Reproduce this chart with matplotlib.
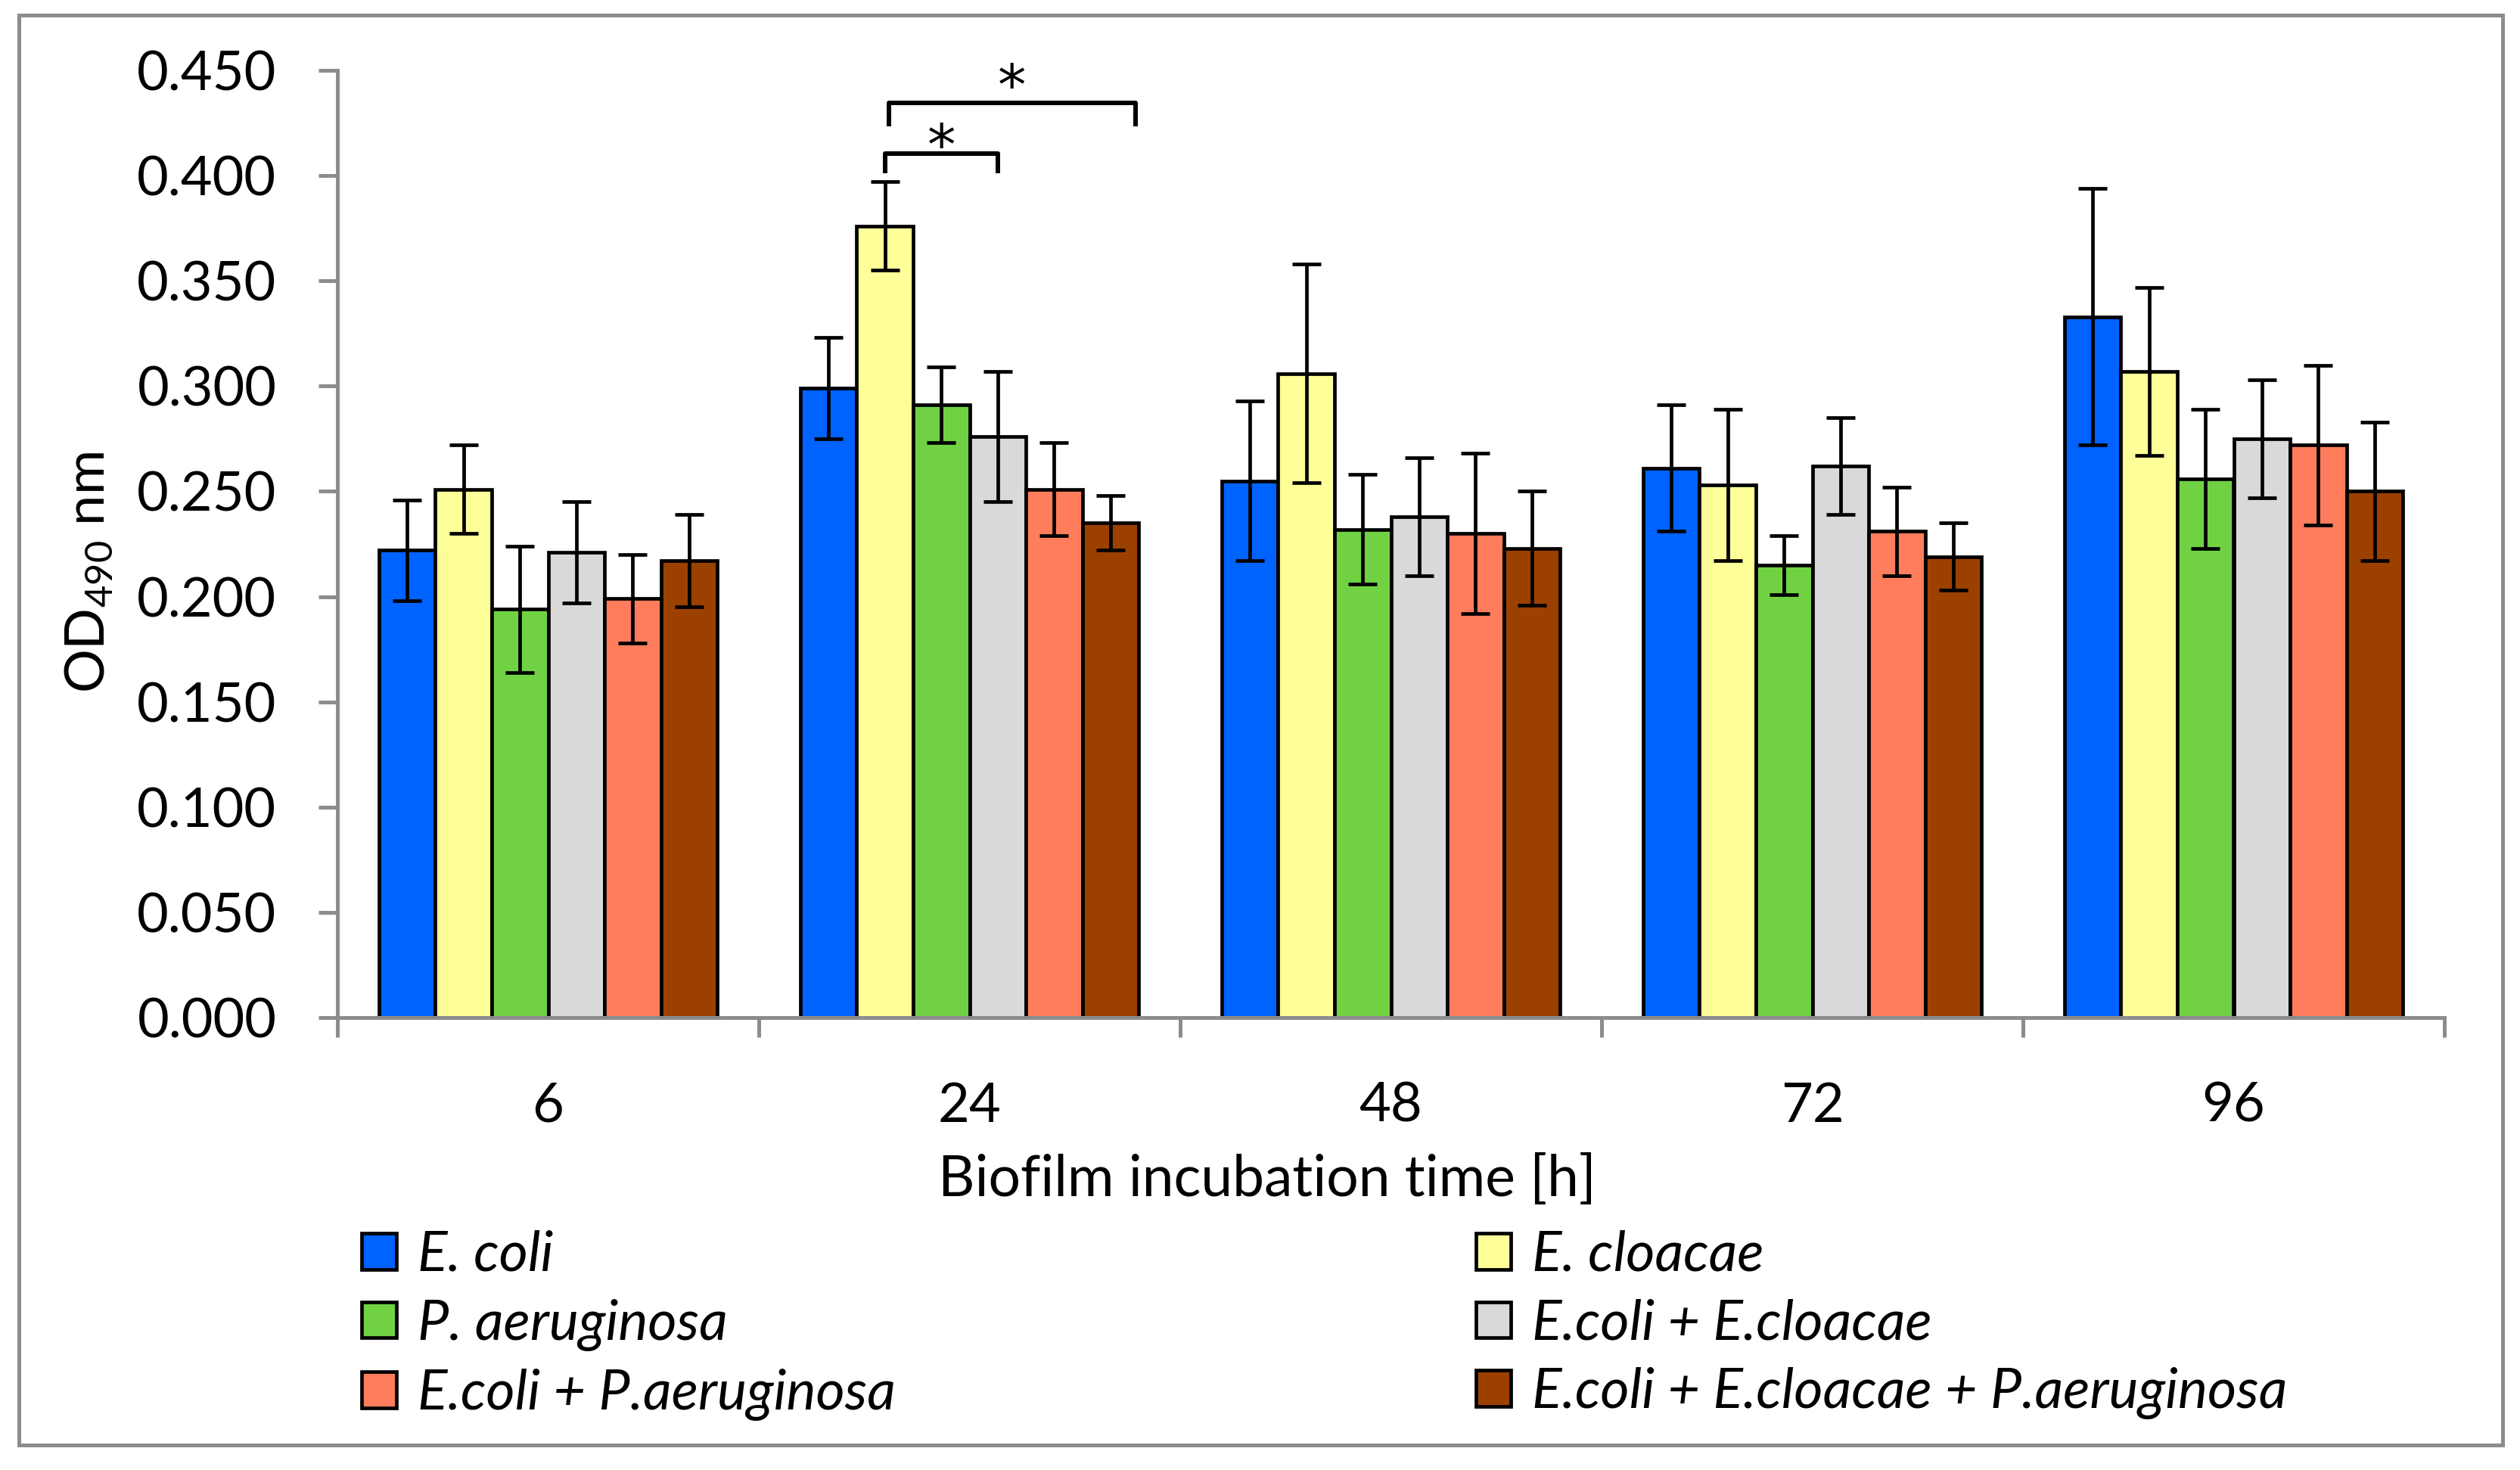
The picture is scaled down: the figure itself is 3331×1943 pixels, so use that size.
import numpy as np
import matplotlib.pyplot as plt
from matplotlib.patches import Patch, Rectangle

plt.rcParams['font.family'] = ['Lato', 'DejaVu Sans']
plt.rcParams['mathtext.fontset'] = 'custom'
plt.rcParams['mathtext.rm'] = 'Lato'

# incubation times (categories)
times = ['6', '24', '48', '72', '96']

strains = ['E. coli', 'E. cloacae', 'P. aeruginosa', 'E.coli + E.cloacae',
           'E.coli + P.aeruginosa', 'E.coli + E.cloacae + P.aeruginosa']
colors = ['#0062FF', '#FFFF99', '#70D243', '#D9D9D9', '#FF7D5C', '#9C4000']

# mean OD490 per strain
ecoli = [0.222, 0.299, 0.255, 0.261, 0.333]
ecloacae = [0.251, 0.376, 0.306, 0.253, 0.307]
paeruginosa = [0.194, 0.291, 0.232, 0.215, 0.256]
ecoli_ecloacae = [0.221, 0.276, 0.238, 0.262, 0.275]
ecoli_paeruginosa = [0.199, 0.251, 0.230, 0.231, 0.272]
ecoli_ecloacae_paeruginosa = [0.217, 0.235, 0.223, 0.219, 0.250]

# standard deviations
ecoli_sd = [0.024, 0.024, 0.038, 0.030, 0.061]
ecloacae_sd = [0.021, 0.021, 0.052, 0.036, 0.040]
paeruginosa_sd = [0.030, 0.018, 0.026, 0.014, 0.033]
ecoli_ecloacae_sd = [0.024, 0.031, 0.028, 0.023, 0.028]
ecoli_paeruginosa_sd = [0.021, 0.022, 0.038, 0.021, 0.038]
ecoli_ecloacae_paeruginosa_sd = [0.022, 0.013, 0.027, 0.016, 0.033]

means = [ecoli, ecloacae, paeruginosa, ecoli_ecloacae, ecoli_paeruginosa,
         ecoli_ecloacae_paeruginosa]
sds = [ecoli_sd, ecloacae_sd, paeruginosa_sd, ecoli_ecloacae_sd,
       ecoli_paeruginosa_sd, ecoli_ecloacae_paeruginosa_sd]

# significance brackets: (time index, strain a, strain b, leg level, top level, star level)
sig_brackets = [(1, 1, 3, 0.401, 0.4104, 0.4178), (1, 1, 5, 0.4234, 0.4347, 0.4459)]

W, H = 3331, 1943
AXIS_GRAY = '#8c8c8c'
FS = 52

fig = plt.figure(figsize=(W / 100, H / 100), dpi=100)
ax = fig.add_axes([446 / W, (H - 1345) / H, (3231 - 446) / W, (1345 - 93) / H])

x = np.arange(len(times))
n = len(strains)
width = 0.804 / n
for j in range(n):
    ax.bar(x + (j - (n - 1) / 2) * width, means[j], width, color=colors[j],
           edgecolor='black', linewidth=3.4, label=strains[j], zorder=1,
           yerr=sds[j],
           error_kw=dict(ecolor='black', elinewidth=3.4, capsize=13.7, capthick=3.4))

# significance brackets
for t, a, b, y_leg, y_top, y_star in sig_brackets:
    xa = t + (a - (n - 1) / 2) * width
    xb = t + (b - (n - 1) / 2) * width
    if b == n - 1:
        xa += 0.009
        xb += 0.44 * width
    ax.plot([xa, xa, xb, xb], [y_leg, y_top, y_top, y_leg], color='black',
            lw=4.3, clip_on=False, solid_joinstyle='round', solid_capstyle='butt')
    ax.text((xa + xb) / 2, y_star - 0.0122, '*', ha='center', va='baseline',
            fontsize=54, family=['DejaVu Sans'], clip_on=False)

ax.set_xlim(-0.5, len(times) - 0.5)
ax.set_ylim(0, 0.45)
ax.set_yticks(np.arange(0, 0.451, 0.05))
ax.set_yticklabels([f'{v:.3f}' for v in np.arange(0, 0.451, 0.05)])
ax.set_xticks(np.arange(-0.5, len(times)), labels=[''] * (len(times) + 1))
ax.set_xticks(x, labels=times, minor=True)

ax.tick_params(axis='y', direction='out', length=18, width=3.6, color=AXIS_GRAY,
               labelsize=FS, pad=40)
ax.tick_params(axis='x', which='major', direction='out', length=19, width=3.6,
               color=AXIS_GRAY)
ax.tick_params(axis='x', which='minor', length=0, labelsize=FS, pad=61)

for side in ['top', 'right']:
    ax.spines[side].set_visible(False)
for side in ['left', 'bottom']:
    ax.spines[side].set_color(AXIS_GRAY)
    ax.spines[side].set_linewidth(3.6)

ax.set_xlabel('Biofilm incubation time [h]', fontsize=FS + 2)
ax.xaxis.set_label_coords((1675 - 446) / (3231 - 446), -(1560 - 1345) / (1345 - 93))
ax.xaxis.label.set_va('center')
ax.set_ylabel('OD$_{490}$ nm', fontsize=FS)
ax.yaxis.set_label_coords(-(446 - 117) / (3231 - 446), 0.47)
ax.yaxis.label.set_va('center')

# legend in two columns, drawn as two separate blocks
handles = [Patch(facecolor=c, edgecolor='black', linewidth=3.4) for c in colors]
leg_kw = dict(loc='upper left', frameon=False, borderpad=0, borderaxespad=0,
              handlelength=0.62, handleheight=0.62, handletextpad=0.38,
              labelspacing=0.32, prop={'size': FS + 1, 'style': 'italic'})
leg1 = fig.legend(handles[0::2], strains[0::2],
                  bbox_to_anchor=(478 / W, 1 - 1626 / H), **leg_kw)
leg2 = fig.legend(handles[1::2], strains[1::2],
                  bbox_to_anchor=(1951 / W, 1 - 1626 / H), **leg_kw)

# chart area border
fig.patches.append(Rectangle((25 / W, 1 - 1910 / H), (3308 - 25) / W, (1910 - 20) / H,
                             transform=fig.transFigure, fill=False,
                             edgecolor=AXIS_GRAY, linewidth=3.6))

fig.savefig('out.png', dpi=100, facecolor='white')
